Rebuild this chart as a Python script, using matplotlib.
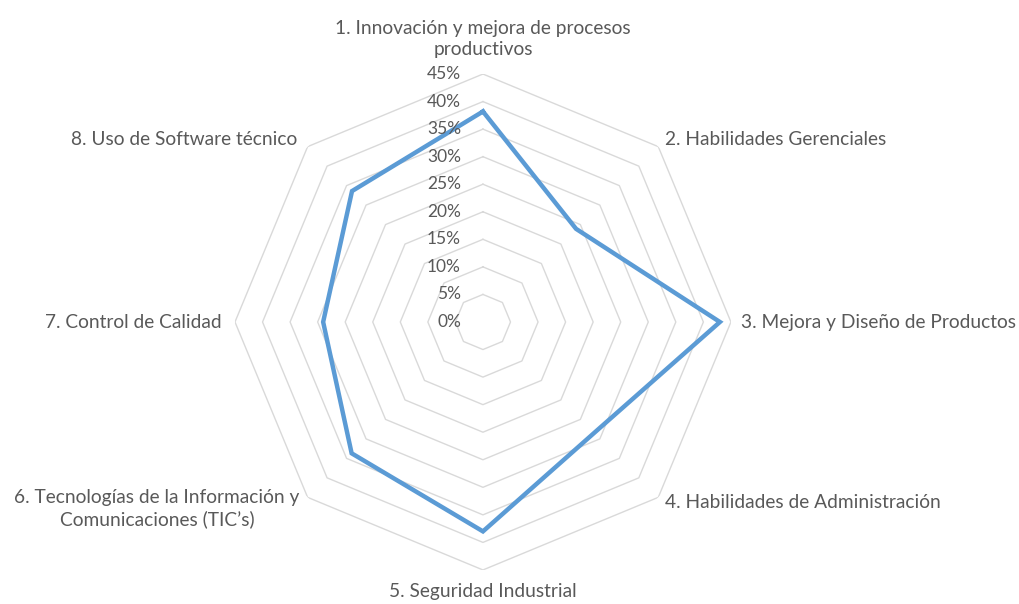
import numpy as np
import matplotlib
matplotlib.use("Agg")
import matplotlib.pyplot as plt

plt.rcParams['font.family'] = ['Lato', 'DejaVu Sans']

categories = [
    "1. Innovación y mejora de procesos\nproductivos",
    "2. Habilidades Gerenciales",
    "3. Mejora y Diseño de Productos",
    "4. Habilidades de Administración",
    "5. Seguridad Industrial",
    "6. Tecnologías de la Información y\nComunicaciones (TIC’s)",
    "7. Control de Calidad",
    "8. Uso de Software técnico",
]
values = [38.2, 23.9, 43.0, 28.5, 38.0, 33.7, 29.0, 33.6]
ticks = [0, 5, 10, 15, 20, 25, 30, 35, 40, 45]
tick_labels = ["%d%%" % t for t in ticks]

# label placement: offset in pixels from outer vertex (last-line baseline)
label_pos = [
    ((0, 19), 'center'),
    ((7, 2), 'left'),
    ((10, -6), 'left'),
    ((7, -11), 'left'),
    ((0, -27), 'center'),
    ((-8, -28), 'right'),
    ((-13, -6), 'right'),
    ((-10, 2), 'right'),
]

text_color = "#595959"
grid_color = "#d9d9d9"
line_color = "#5b9bd5"

n = len(categories)
angles = np.arange(n) * 2 * np.pi / n
closed = np.append(angles, angles[0])

fig = plt.figure(figsize=(10.19, 6.04), dpi=100)
ax = fig.add_axes([0.2306, 0.0563, 0.4867, 0.8212], projection='polar')
ax.set_theta_zero_location('N')
ax.set_theta_direction(-1)
ax.set_ylim(0, 45)
ax.grid(False)
ax.spines['polar'].set_visible(False)
ax.set_xticks([])
ax.set_yticks([])

# octagon grid rings
for t in ticks[1:]:
    ax.plot(closed, [t] * (n + 1), color=grid_color, lw=1, zorder=1)

ax.plot(closed, np.append(values, values[0]), color=line_color, lw=3.2,
        solid_joinstyle='miter', zorder=3)

for t, lab in zip(ticks, tick_labels):
    ax.annotate(lab, xy=(0, t), xytext=(-22, 0), textcoords='offset pixels',
                ha='right', va='center', fontsize=12.5, color=text_color,
                annotation_clip=False)

for a, lab, (off, ha) in zip(angles, categories, label_pos):
    ax.annotate(lab, xy=(a, 45), xytext=off, textcoords='offset pixels',
                ha=ha, va='baseline', fontsize=13.8, color=text_color,
                multialignment='center', linespacing=1.3,
                annotation_clip=False)

fig.savefig("out.png", dpi=100)
